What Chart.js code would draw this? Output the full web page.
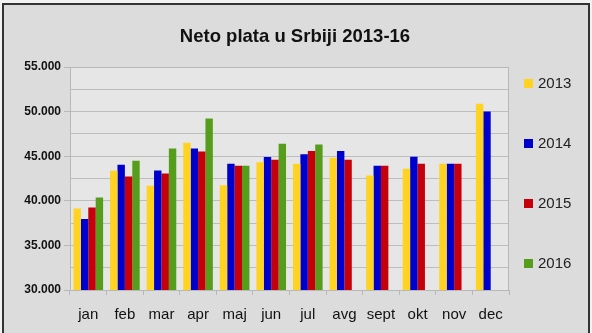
<!DOCTYPE html>
<html>
<head>
<meta charset="utf-8">
<script src="https://cdn.jsdelivr.net/npm/chart.js@4"></script>
<style>
  html, body { margin: 0; padding: 0; background: #f2f2f2; overflow: hidden; }
  .frame {
    position: absolute; left: 2px; top: 3px;
    width: 584px; height: 340px;
    border: 2px solid #333; background: #dcdcdc;
  }
  #chart { display: block; }
</style>
</head>
<body>
<div class="frame">
  <canvas id="chart" width="584" height="330"></canvas>
</div>
<script>
// podaci
const months = ['jan', 'feb', 'mar', 'apr', 'maj', 'jun', 'jul', 'avg', 'sept', 'okt', 'nov', 'dec'];
const y2013 = [39130, 43360, 41680, 46500, 41750, 44330, 44150, 44820, 42840, 43590, 44150, 50880];
const y2014 = [37970, 44030, 43400, 45870, 44150, 44900, 45230, 45570, 43920, 44930, 44150, 50020];
const y2015 = [39240, 42720, 43060, 45530, 43920, 44600, 45570, 44600, 43920, 44150, 44150, null];
const y2016 = [40370, 44480, 45870, 49240, 43920, 46390, 46320, null, null, null, null, null];
const seriesNames = ['2013', '2014', '2015', '2016'];
const colors = ['#FFD320', '#0000CC', '#C5000B', '#579D1C'];

// 55000 -> "55.000"
const fmt = v => String(v).replace(/\B(?=(\d{3})+(?!\d))/g, '.');

// pozadina i okvir oblasti grafika
const plotBg = {
    id: 'plotBg',
    beforeDraw(chart) {
        const { ctx, chartArea: a } = chart;
        ctx.save();
        ctx.fillStyle = '#e6e6e6';
        ctx.fillRect(a.left, a.top, a.right - a.left, a.bottom - a.top);
        ctx.restore();
    },
    afterDatasetsDraw(chart) {
        const { ctx, chartArea: a } = chart;
        ctx.save();
        ctx.strokeStyle = '#b8b8b8';
        ctx.lineWidth = 1;
        ctx.strokeRect(a.left + 0.5, a.top + 0.5, a.right - a.left - 1, a.bottom - a.top);
        ctx.restore();
    }
};

// naslov i legenda desno
const sideLegend = {
    id: 'sideLegend',
    afterDraw(chart) {
        const { ctx } = chart;
        ctx.save();
        ctx.fillStyle = '#111';
        ctx.font = 'bold 18.5px "Liberation Sans", Arial, sans-serif';
        ctx.textAlign = 'center';
        ctx.textBaseline = 'middle';
        ctx.fillText('Neto plata u Srbiji 2013-16', 291, 32);

        ctx.font = '15px "Liberation Sans", Arial, sans-serif';
        ctx.textAlign = 'left';
        chart.data.datasets.forEach((ds, i) => {
            const y = 78 + i * 60;
            ctx.fillStyle = ds.backgroundColor;
            ctx.fillRect(520, y - 4, 9, 9);
            ctx.fillStyle = '#222';
            ctx.fillText(ds.label, 534, y + 1);
        });
        ctx.restore();
    }
};

new Chart(document.getElementById('chart'), {
    type: 'bar',
    data: {
        labels: months,
        datasets: [y2013, y2014, y2015, y2016].map((d, i) => ({
            label: seriesNames[i],
            data: d,
            backgroundColor: colors[i],
            borderWidth: 0,
            barPercentage: 1,
            categoryPercentage: 0.81
        }))
    },
    options: {
        responsive: false,
        animation: false,
        layout: { padding: { top: 62, right: 79, bottom: 5, left: 0 } },
        plugins: {
            legend: { display: false },
            title: { display: false },
            tooltip: { enabled: false }
        },
        scales: {
            x: {
                afterFit: s => { s.height = 40; },
                grid: {
                    offset: true,
                    drawOnChartArea: false,
                    tickLength: 5,
                    tickColor: '#b8b8b8'
                },
                border: { color: '#b8b8b8' },
                ticks: {
                    padding: 11,
                    color: '#111',
                    font: { family: '"Liberation Sans", Arial, sans-serif', size: 15 }
                }
            },
            y: {
                min: 30000,
                max: 55000,
                afterFit: s => { s.width = 66; },
                grid: {
                    color: '#bdbdbd',
                    tickLength: 6,
                    tickColor: ctx => (ctx.tick && ctx.tick.value % 5000 === 0) ? '#b8b8b8' : 'rgba(0,0,0,0)'
                },
                border: { color: '#b8b8b8' },
                ticks: {
                    stepSize: 2500,
                    padding: 3,
                    color: '#111',
                    font: { family: '"Liberation Sans", Arial, sans-serif', size: 12, weight: 'bold' },
                    callback: v => v % 5000 === 0 ? fmt(v) : ''
                }
            }
        }
    },
    plugins: [plotBg, sideLegend]
});
</script>
</body>
</html>
